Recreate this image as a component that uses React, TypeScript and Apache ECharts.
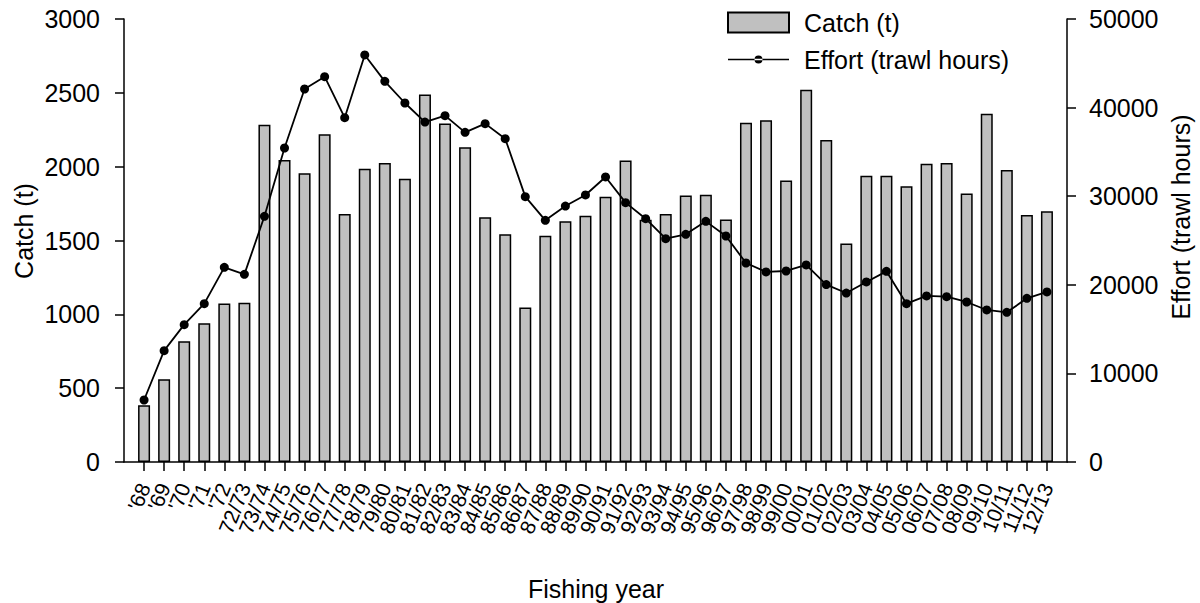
import React, { useEffect, useRef } from "react";
import * as echarts from "echarts";

const years: string[] = [
  "'68", "'69", "'70", "'71", "'72",
  "72/73", "73/74", "74/75", "75/76", "76/77", "77/78", "78/79", "79/80", "80/81", "81/82",
  "82/83", "83/84", "84/85", "85/86", "86/87", "87/88", "88/89", "89/90", "90/91", "91/92",
  "92/93", "93/94", "94/95", "95/96", "96/97", "97/98", "98/99", "99/00", "00/01", "01/02",
  "02/03", "03/04", "04/05", "05/06", "06/07", "07/08", "08/09", "09/10", "10/11", "11/12", "12/13",
];

const catchT: number[] = [
  384, 560, 817, 939, 1074,
  1079, 2284, 2045, 1955, 2219, 1679, 1986, 2025, 1919, 2488,
  2293, 2131, 1657, 1542, 1047, 1533, 1630, 1668, 1797, 2041,
  1641, 1679, 1804, 1810, 1643, 2298, 2314, 1907, 2521, 2181,
  1479, 1939, 1939, 1867, 2020, 2025, 1819, 2359, 1977, 1673, 1698,
];

const effort: number[] = [
  7000, 12570, 15500, 17870, 21970,
  21180, 27730, 35440, 42100, 43490, 38860, 45940, 42960, 40520, 38370,
  39090, 37210, 38190, 36490, 29950, 27280, 28890, 30140, 32170, 29270,
  27460, 25210, 25700, 27160, 25510, 22460, 21450, 21560, 22240, 20020,
  19070, 20320, 21520, 17870, 18740, 18660, 18060, 17160, 16890, 18470, 19190,
];

const leftTicks = { min: 0, max: 3000, interval: 500 };
const rightTicks = { min: 0, max: 50000, interval: 10000 };

const FONT = "Liberation Sans, Arial, sans-serif";

// legend icon for the effort series: a line with a small dot in its middle
const LINE_ICON =
  "path://M0 3.2 H61 V4.8 H0 Z M26.5 4 A4 4 0 1 0 34.5 4 A4 4 0 1 0 26.5 4 Z";

export default function App() {
  const ref = useRef<HTMLDivElement>(null);

  useEffect(() => {
    if (!ref.current) return;
    const chart = echarts.init(ref.current, null, { renderer: "svg" });
    const cats = ["", ...years, ""];
    const barData = [null, ...catchT, null];
    const lineData = [null, ...effort, null];

    chart.setOption({
      animation: false,
      backgroundColor: "#ffffff",
      textStyle: { fontFamily: FONT, color: "#000" },
      grid: { left: 124, right: 133, top: 19, bottom: 141, containLabel: false },
      legend: {
        orient: "vertical",
        left: 727,
        top: 10,
        padding: 0,
        itemWidth: 61,
        itemHeight: 20,
        itemGap: 12,
        symbolKeepAspect: true,
        textStyle: { fontFamily: FONT, fontSize: 25, color: "#000", padding: [0, 0, 0, 10] },
        data: [
          { name: "Catch (t)", icon: "rect" },
          { name: "Effort (trawl hours)", icon: LINE_ICON },
        ],
      },
      xAxis: {
        type: "category",
        data: cats,
        boundaryGap: false,
        axisLine: { lineStyle: { color: "#000", width: 1.5 } },
        axisTick: {
          length: 9,
          lineStyle: { color: "#000", width: 1.5 },
          interval: (idx: number, val: string) => val !== "",
        },
        axisLabel: {
          interval: 0,
          rotate: 68,
          fontSize: 21,
          fontFamily: FONT,
          color: "#000",
          margin: 22,
        },
        splitLine: { show: false },
      },
      yAxis: [
        {
          type: "value",
          min: leftTicks.min,
          max: leftTicks.max,
          interval: leftTicks.interval,
          position: "left",
          axisLine: { show: true, lineStyle: { color: "#000", width: 1.5 } },
          axisTick: { show: true, length: 9, lineStyle: { color: "#000", width: 1.5 } },
          axisLabel: {
            fontSize: 25,
            fontFamily: FONT,
            color: "#000",
            margin: 24,
            formatter: (v: number) => String(v),
          },
          splitLine: { show: false },
        },
        {
          type: "value",
          min: rightTicks.min,
          max: rightTicks.max,
          interval: rightTicks.interval,
          position: "right",
          axisLine: { show: true, lineStyle: { color: "#000", width: 1.5 } },
          axisTick: { show: true, length: 9, lineStyle: { color: "#000", width: 1.5 } },
          axisLabel: {
            fontSize: 25,
            fontFamily: FONT,
            color: "#000",
            margin: 22,
            formatter: (v: number) => String(v),
          },
          splitLine: { show: false },
        },
      ],
      series: [
        {
          name: "Catch (t)",
          type: "bar",
          yAxisIndex: 0,
          data: barData,
          barWidth: 12,
          itemStyle: { color: "#c0c0c0", borderColor: "#000", borderWidth: 1.5 },
        },
        {
          name: "Effort (trawl hours)",
          type: "line",
          yAxisIndex: 1,
          data: lineData,
          symbol: "circle",
          symbolSize: 9,
          showSymbol: true,
          lineStyle: { color: "#000", width: 1.8 },
          itemStyle: { color: "#000" },
          z: 3,
        },
      ],
      graphic: [
        {
          type: "text",
          x: 24,
          y: 231,
          rotation: Math.PI / 2,
          style: {
            text: "Catch (t)",
            fontSize: 25,
            fontFamily: FONT,
            fill: "#000",
            align: "center",
            verticalAlign: "middle",
          },
        },
        {
          type: "text",
          x: 1181,
          y: 217,
          rotation: Math.PI / 2,
          style: {
            text: "Effort (trawl hours)",
            fontSize: 25,
            fontFamily: FONT,
            fill: "#000",
            align: "center",
            verticalAlign: "middle",
          },
        },
        {
          type: "text",
          x: 596,
          y: 589,
          style: {
            text: "Fishing year",
            fontSize: 25,
            fontFamily: FONT,
            fill: "#000",
            align: "center",
            verticalAlign: "middle",
          },
        },
      ],
    });

    return () => chart.dispose();
  }, []);

  return <div ref={ref} style={{ width: 1200, height: 603, position: "absolute", left: 0, top: 0 }} />;
}
